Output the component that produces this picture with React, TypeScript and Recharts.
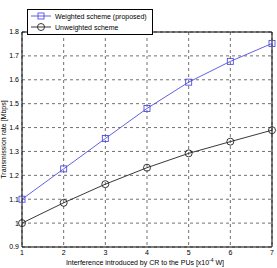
import React from 'react';
import {
  LineChart,
  Line,
  XAxis,
  YAxis,
  CartesianGrid,
  Legend,
  ReferenceLine,
} from 'recharts';

const interference = [1, 2, 3, 4, 5, 6, 7];
const weighted = [1.1, 1.227, 1.354, 1.48, 1.59, 1.677, 1.752];
const unweighted = [1.0, 1.085, 1.163, 1.232, 1.292, 1.341, 1.389];
const yTicks = [0.9, 1.0, 1.1, 1.2, 1.3, 1.4, 1.5, 1.6, 1.7, 1.8];

const data = interference.map((x, i) => ({
  x,
  weighted: weighted[i],
  unweighted: unweighted[i],
}));

const BLUE = '#4f4fe0';
const FONT = 'Liberation Sans, Arial, sans-serif';

const SquareDot = (props: any) => {
  const { cx, cy } = props;
  if (cx == null || cy == null) return null;
  return <rect x={cx - 3} y={cy - 3} width={6} height={6} fill="none" stroke={BLUE} strokeWidth={0.9} />;
};

const CircleDot = (props: any) => {
  const { cx, cy } = props;
  if (cx == null || cy == null) return null;
  return <circle cx={cx} cy={cy} r={3.5} fill="none" stroke="#222" strokeWidth={0.9} />;
};

const LegendBox = () => (
  <svg width={126} height={26} style={{ display: 'block' }}>
    <rect x={0.5} y={0.5} width={125} height={25} fill="#fff" stroke="#000" strokeWidth={1} />
    <line x1={4} y1={7} x2={24} y2={7} stroke={BLUE} strokeWidth={0.9} />
    <rect x={11} y={4} width={6} height={6} fill="none" stroke={BLUE} strokeWidth={0.9} />
    <text x={28} y={9.5} fontSize={7} fontFamily={FONT} fill="#000">Weighted scheme (proposed)</text>
    <line x1={4} y1={18} x2={24} y2={18} stroke="#222" strokeWidth={0.9} />
    <circle cx={14} cy={18} r={3.5} fill="none" stroke="#222" strokeWidth={0.9} />
    <text x={28} y={20.5} fontSize={7} fontFamily={FONT} fill="#000">Unweighted scheme</text>
  </svg>
);

const XLabel = (props: any) => {
  const { viewBox } = props;
  const cx = viewBox.x + viewBox.width / 2 - 2;
  const y = viewBox.y + 18;
  return (
    <text x={cx} y={y} textAnchor="middle" fontSize={7} fontFamily={FONT} fill="#000">
      Interference introduced by CR to the PUs [x10
      <tspan dy={-3} fontSize={5}>-4</tspan>
      <tspan dy={3}> W]</tspan>
    </text>
  );
};

const YLabel = (props: any) => {
  const { viewBox } = props;
  const cy = viewBox.y + viewBox.height / 2;
  return (
    <text
      x={6}
      y={cy}
      transform={`rotate(-90 6 ${cy})`}
      textAnchor="middle"
      fontSize={7}
      fontFamily={FONT}
      fill="#000"
    >
      Transmission rate [Mbps]
    </text>
  );
};

export default function App() {
  return (
    <div style={{ position: 'absolute', left: 0, top: 0, width: 277, height: 268, background: '#fff' }}>
      <LineChart
        width={277}
        height={268}
        data={data}
        margin={{ top: 6, right: 5, bottom: 0, left: 0 }}
      >
        <CartesianGrid stroke="#333" strokeDasharray="3 3" strokeWidth={0.7} />
        <XAxis
          dataKey="x"
          type="number"
          domain={[1, 7]}
          ticks={interference}
          height={21}
          axisLine={{ stroke: '#000' }}
          tickLine={false}
          tickSize={0}
          tick={{ fontSize: 7, fontFamily: FONT, fill: '#000' }}
          tickMargin={3}
          label={<XLabel />}
        />
        <YAxis
          type="number"
          domain={[0.9, 1.8]}
          ticks={yTicks}
          width={22}
          axisLine={{ stroke: '#000' }}
          tickLine={false}
          tickSize={0}
          tickMargin={3}
          tickFormatter={(v: number) => String(Math.round(v * 10) / 10)}
          tick={{ fontSize: 7, fontFamily: FONT, fill: '#000' }}
          label={<YLabel />}
        />
        <ReferenceLine x={7} stroke="#000" strokeWidth={1} />
        <ReferenceLine y={1.8} stroke="#000" strokeWidth={1} />
        <Legend
          verticalAlign="top"
          align="left"
          content={() => <LegendBox />}
          wrapperStyle={{ left: 27, top: 9, width: 126 }}
        />
        <Line
          type="linear"
          dataKey="weighted"
          stroke={BLUE}
          strokeWidth={0.9}
          dot={<SquareDot />}
          isAnimationActive={false}
        />
        <Line
          type="linear"
          dataKey="unweighted"
          stroke="#222"
          strokeWidth={0.9}
          dot={<CircleDot />}
          isAnimationActive={false}
        />
      </LineChart>
    </div>
  );
}
